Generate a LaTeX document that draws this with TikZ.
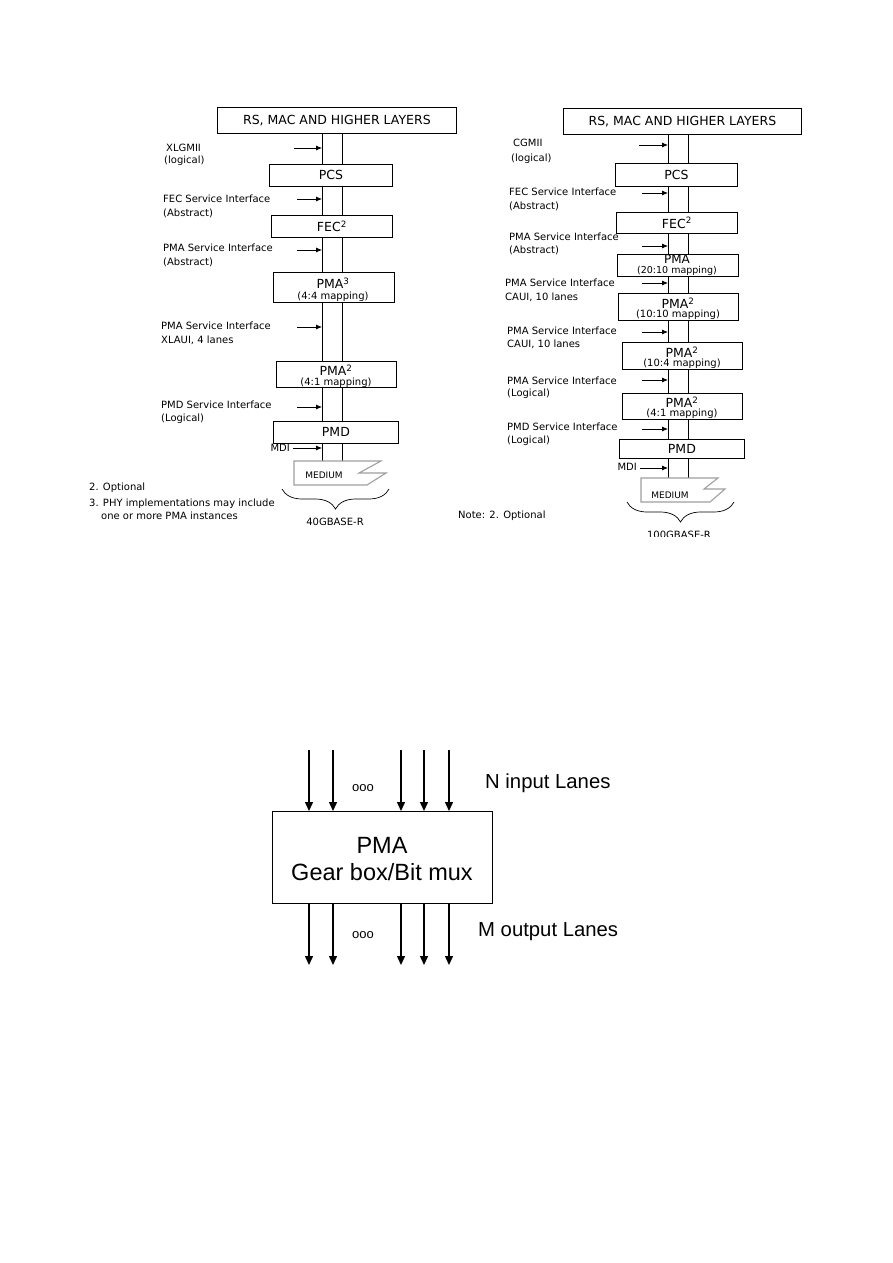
\documentclass[tikz,border=0pt]{standalone}
\usepackage{fontspec}
\setmainfont{DejaVu Sans}
\newfontfamily\arialfont{Liberation Sans}
\usetikzlibrary{arrows.meta,decorations.pathreplacing}
\begin{document}
\begin{tikzpicture}[x=1pt,y=-1pt,
  lay/.style={draw=black,line width=0.8pt,fill=white,inner sep=0,anchor=north west},
  ttl/.style={inner sep=0,font=\fontsize{12.5}{14}\selectfont},
  mapt/.style={inner sep=0,font=\fontsize{10}{12}\selectfont},
  lbl/.style={inner sep=0,anchor=west,font=\fontsize{10}{12}\selectfont},
  chan/.style={line width=0.8pt},
  sarr/.style={line width=0.75pt,-{Latex[length=6pt,width=5pt]}},
  med/.style={draw=gray!75,line width=1.1pt,fill=white},
  medt/.style={inner sep=0,font=\fontsize{9}{11}\selectfont},
  brc/.style={line width=0.7pt,decorate,decoration={brace,amplitude=20pt,mirror}},
  bigarr/.style={line width=1.4pt,-{Triangle[length=9pt,width=8pt]}},
  big/.style={inner sep=0,font=\arialfont\fontsize{20.3}{24}\selectfont,anchor=west}
]
\useasboundingbox[fill=white] (0,0) rectangle (893,1263);

% ================= LEFT: 40GBASE-R =================
\coordinate (lcL) at (322,133);
\coordinate (lcR) at (342,133);
\coordinate (lmL) at (322,461);
\coordinate (lmR) at (342,461);
\draw[chan] (lcL) -- (lmL);
\draw[chan] (lcR) -- (lmR);

\node[lay,minimum width=239,minimum height=26] (lRS) at (217,107) {};
\node[ttl] (lRSt) at (lRS.center) {RS, MAC AND HIGHER LAYERS};
\node[lay,minimum width=123,minimum height=22] (lPCS) at (269,164) {};
\node[ttl] (lPCSt) at (lPCS.center) {PCS};
\node[lay,minimum width=121,minimum height=22] (lFEC) at (271,215) {};
\node[ttl] (lFECt) at (lFEC.center) {FEC\textsuperscript{2}};
\node[lay,minimum width=121,minimum height=30] (lPMAa) at (273,272) {};
\node[ttl] (lPMAat) at (333,283) {PMA\textsuperscript{3}};
\node[mapt] (lPMAam) at (333,296.5) {(4:4 mapping)};
\node[lay,minimum width=120,minimum height=26] (lPMAb) at (276,361) {};
\node[ttl] (lPMAbt) at (336,370) {PMA\textsuperscript{2}};
\node[mapt] (lPMAbm) at (336,382.5) {(4:1 mapping)};
\node[lay,minimum width=125,minimum height=22] (lPMD) at (273,421) {};
\node[ttl] (lPMDt) at (lPMD.center) {PMD};

% interface arrows
\coordinate (la1) at (294,148);
\coordinate (la2) at (297,199);
\coordinate (la3) at (297,250);
\coordinate (la4) at (297,327);
\coordinate (la5) at (297,407);
\coordinate (la6) at (293,448);
\foreach \a in {la1,la2,la3,la4,la5,la6}{\draw[sarr] (\a) -- (\a -| lcL);}

\node[lbl] (ll1a) at (166,148) {XLGMII};
\node[lbl] (ll1b) at (164,161) {(logical)};
\node[lbl] (ll2a) at (163,199) {FEC Service Interface};
\node[lbl] (ll2b) at (163,213) {(Abstract)};
\node[lbl] (ll3a) at (163,248) {PMA Service Interface};
\node[lbl] (ll3b) at (163,262) {(Abstract)};
\node[lbl] (ll4a) at (161,326) {PMA Service Interface};
\node[lbl] (ll4b) at (161,340) {XLAUI, 4 lanes};
\node[lbl] (ll5a) at (161,405) {PMD Service Interface};
\node[lbl] (ll5b) at (161,419) {(Logical)};
\node[lbl,anchor=east] (ll6) at (290,448) {MDI};

% medium
\draw[med] (294,461) -- (381,461) -- (359,473) -- (386,473) -- (367,485) -- (294,485) -- cycle;
\node[medt] (lMED) at (324,475) {MEDIUM};
\coordinate (lb1) at (282,489);
\coordinate (lb2) at (389,489);
\draw[brc] (lb1) -- (lb2);
\node[lbl,anchor=center] (l40) at (335,522) {40GBASE-R};

\node[lbl] (n2) at (89,488) {2. Optional};
\node[lbl] (n3a) at (89,504) {3. PHY implementations may include};
\node[lbl] (n3b) at (101,516) {one or more PMA instances};

% ================= RIGHT: 100GBASE-R =================
\coordinate (rcL) at (668,134);
\coordinate (rcR) at (688,134);
\coordinate (rmL) at (668,478);
\coordinate (rmR) at (688,478);
\draw[chan] (rcL) -- (rmL);
\draw[chan] (rcR) -- (rmR);

\node[lay,minimum width=238,minimum height=26] (rRS) at (563,108) {};
\node[ttl] (rRSt) at (rRS.center) {RS, MAC AND HIGHER LAYERS};
\node[lay,minimum width=122,minimum height=23] (rPCS) at (615,163) {};
\node[ttl] (rPCSt) at (rPCS.center) {PCS};
\node[lay,minimum width=121,minimum height=21] (rFEC) at (616,212) {};
\node[ttl] (rFECt) at (rFEC.center) {FEC\textsuperscript{2}};
\node[lay,minimum width=121,minimum height=22] (rPMAa) at (617,254) {};
\node[ttl,font=\fontsize{12}{14}\selectfont] (rPMAat) at (677,259.5) {PMA};
\node[mapt,font=\fontsize{9.5}{11}\selectfont] (rPMAam) at (677,271) {(20:10 mapping)};
\node[lay,minimum width=120,minimum height=27] (rPMAb) at (618,293) {};
\node[ttl] (rPMAbt) at (678,303) {PMA\textsuperscript{2}};
\node[mapt] (rPMAbm) at (678,315) {(10:10 mapping)};
\node[lay,minimum width=120,minimum height=27] (rPMAc) at (622,342) {};
\node[ttl] (rPMAct) at (682,352) {PMA\textsuperscript{2}};
\node[mapt] (rPMAcm) at (682,364) {(10:4 mapping)};
\node[lay,minimum width=120,minimum height=26] (rPMAd) at (622,393) {};
\node[ttl] (rPMAdt) at (682,402.5) {PMA\textsuperscript{2}};
\node[mapt] (rPMAdm) at (682,414) {(4:1 mapping)};
\node[lay,minimum width=125,minimum height=19] (rPMD) at (619,439) {};
\node[ttl] (rPMDt) at (rPMD.center) {PMD};

\coordinate (ra1) at (639,145);
\coordinate (ra2) at (642,193);
\coordinate (ra3) at (642,246);
\coordinate (ra4) at (642,283);
\coordinate (ra5) at (642,332);
\coordinate (ra6) at (642,380);
\coordinate (ra7) at (642,429);
\coordinate (ra8) at (640,468);
\foreach \a in {ra1,ra2,ra3,ra4,ra5,ra6,ra7,ra8}{\draw[sarr] (\a) -- (\a -| rcL);}

\node[lbl] (rl1a) at (513,143) {CGMII};
\node[lbl] (rl1b) at (511,159) {(logical)};
\node[lbl] (rl2a) at (509,192) {FEC Service Interface};
\node[lbl] (rl2b) at (509,206) {(Abstract)};
\node[lbl] (rl3a) at (509,237) {PMA Service Interface};
\node[lbl] (rl3b) at (509,250) {(Abstract)};
\node[lbl] (rl4a) at (505,283) {PMA Service Interface};
\node[lbl] (rl4b) at (505,297) {CAUI, 10 lanes};
\node[lbl] (rl5a) at (507,331) {PMA Service Interface};
\node[lbl] (rl5b) at (507,344) {CAUI, 10 lanes};
\node[lbl] (rl6a) at (507,381) {PMA Service Interface};
\node[lbl] (rl6b) at (507,394) {(Logical)};
\node[lbl] (rl7a) at (507,427) {PMD Service Interface};
\node[lbl] (rl7b) at (507,441) {(Logical)};
\node[lbl,anchor=east] (rl8) at (637,467) {MDI};

\draw[med] (641,478) -- (718,478) -- (704,489) -- (725,489) -- (710,502) -- (641,502) -- cycle;
\node[medt] (rMED) at (670,495) {MEDIUM};
\coordinate (rb1) at (627,502);
\coordinate (rb2) at (734,502);
\draw[brc] (rb1) -- (rb2);
\begin{scope}
\clip (0,0) rectangle (893,536.5);
\node[lbl,anchor=base] (r100) at (679,538.5) {100GBASE-R};
\end{scope}
\node[lbl] (rn2) at (458,516) {Note: 2. Optional};

% ================= BOTTOM: PMA gearbox =================
\node[draw=black,line width=1.4pt,fill=white,anchor=north west,minimum width=220,minimum height=92,inner sep=0] (gb) at (272,811) {};
\node[inner sep=0,align=center,font=\arialfont\fontsize{23.5}{27}\selectfont] (gbt) at (382,859) {PMA\\Gear box/Bit mux};
\foreach \x [count=\i] in {309,333,401,424,449}{
  \coordinate (in\i) at (\x,750);
  \coordinate (out\i) at (\x,965);
  \draw[bigarr] (in\i) -- (in\i |- gb.north);
  \draw[bigarr] (out\i |- gb.south) -- (out\i);
}
\node[inner sep=0,font=\arialfont\fontsize{13}{15}\selectfont] (dots1) at (363,788) {ooo};
\node[inner sep=0,font=\arialfont\fontsize{13}{15}\selectfont] (dots2) at (363,935) {ooo};
\node[big] (nin) at (485,783) {N input Lanes};
\node[big] (mout) at (478,932) {M output Lanes};
\end{tikzpicture}
\end{document}
